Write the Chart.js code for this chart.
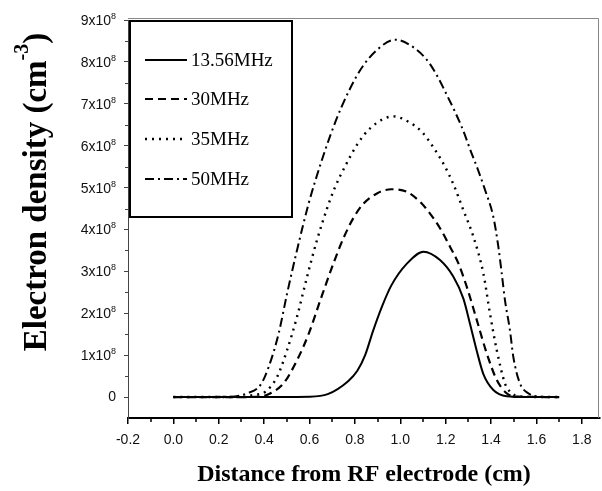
<!DOCTYPE html>
<html>
<head>
<meta charset="utf-8">
<script src="https://cdn.jsdelivr.net/npm/chart.js@4.4.1/dist/chart.umd.min.js"></script>
<style>
  html, body { margin: 0; padding: 0; background: #fff; }
</style>
</head>
<body>
<canvas id="chart" width="602" height="491"></canvas>
<script>
// electron density values are in units of 10^8 cm^-3
const seriesNames = ["13.56MHz", "30MHz", "35MHz", "50MHz"]

const x1356 = [0, 0.3, 0.6, 0.68, 0.77, 0.81, 0.845, 0.88, 0.92, 0.96, 1.03, 1.102, 1.175, 1.234, 1.278, 1.307, 1.337, 1.366, 1.41, 1.469, 1.55, 1.7]
const y1356 = [0, 0, 0.01, 0.07, 0.38, 0.62, 1.0, 1.58, 2.17, 2.66, 3.19, 3.47, 3.27, 2.87, 2.35, 1.75, 1.1, 0.55, 0.17, 0.02, 0, 0]

const x30 = [0, 0.3, 0.38, 0.428, 0.486, 0.545, 0.597, 0.648, 0.706, 0.75, 0.794, 0.838, 0.897, 0.96, 1.029, 1.087, 1.131, 1.175, 1.219, 1.256, 1.293, 1.337, 1.381, 1.425, 1.469, 1.52, 1.7]
const y30 = [0, 0, 0.01, 0.09, 0.33, 0.88, 1.52, 2.32, 3.2, 3.8, 4.28, 4.62, 4.86, 4.96, 4.9, 4.66, 4.38, 4.03, 3.59, 3.19, 2.63, 1.84, 1.04, 0.41, 0.09, 0.01, 0]

const x35 = [0, 0.28, 0.354, 0.406, 0.457, 0.501, 0.545, 0.589, 0.633, 0.677, 0.71, 0.758, 0.809, 0.868, 0.97, 1.036, 1.095, 1.153, 1.197, 1.234, 1.278, 1.322, 1.366, 1.395, 1.425, 1.461, 1.483, 1.53, 1.7]
const y35 = [0, 0, 0.05, 0.13, 0.48, 1.12, 1.92, 2.87, 3.75, 4.5, 4.98, 5.52, 6.02, 6.42, 6.7, 6.57, 6.33, 5.9, 5.5, 5.08, 4.46, 3.83, 2.95, 2.0, 1.12, 0.33, 0.13, 0.01, 0]

const x50 = [0, 0.25, 0.325, 0.384, 0.42, 0.464, 0.501, 0.545, 0.596, 0.648, 0.692, 0.743, 0.823, 0.9, 0.977, 1.065, 1.124, 1.168, 1.205, 1.241, 1.278, 1.307, 1.344, 1.373, 1.41, 1.432, 1.447, 1.461, 1.483, 1.498, 1.527, 1.564, 1.62, 1.7]
const y50 = [0, 0.01, 0.09, 0.29, 0.72, 1.52, 2.47, 3.51, 4.62, 5.55, 6.25, 6.95, 7.8, 8.3, 8.53, 8.32, 8.0, 7.61, 7.21, 6.81, 6.35, 5.92, 5.4, 4.95, 4.3, 3.59, 2.95, 2.32, 1.6, 0.96, 0.33, 0.09, 0.01, 0]

const xTickValues = [-0.2, 0, 0.2, 0.4, 0.6, 0.8, 1.0, 1.2, 1.4, 1.6, 1.8]
const xMinorValues = [-0.1, 0.1, 0.3, 0.5, 0.7, 0.9, 1.1, 1.3, 1.5, 1.7]
const yTickValues = [0, 1, 2, 3, 4, 5, 6, 7, 8, 9]
const yMinorValues = [0.5, 1.5, 2.5, 3.5, 4.5, 5.5, 6.5, 7.5, 8.5]

const xTitle = "Distance from RF electrode (cm)"
const yTitle = "Electron density (cm"
const yTitleSup = "-3"

function toPoints(xs, ys) {
  return xs.map((x, i) => ({ x: x, y: ys[i] }))
}

const lineStyles = [
  { dash: [], width: 2 },
  { dash: [8, 5], width: 2.2 },
  { dash: [2, 5], width: 2.4 },
  { dash: [9, 4, 2, 4], width: 2 }
]

const allX = [x1356, x30, x35, x50]
const allY = [y1356, y30, y35, y50]

const datasets = seriesNames.map((name, i) => ({
  label: name,
  data: toPoints(allX[i], allY[i]),
  borderColor: "#000",
  borderWidth: lineStyles[i].width,
  borderDash: lineStyles[i].dash,
  pointRadius: 0,
  fill: false,
  cubicInterpolationMode: "monotone"
}))

const extras = {
  id: "extras",
  afterDraw(chart) {
    const ctx = chart.ctx
    const area = chart.chartArea
    const xs = chart.scales.x
    const ys = chart.scales.y
    ctx.save()

    // thin frame on top and right
    ctx.strokeStyle = "#888"
    ctx.lineWidth = 1
    ctx.beginPath()
    ctx.moveTo(area.left, area.top - 1.5)
    ctx.lineTo(area.right - 1.5, area.top - 1.5)
    ctx.lineTo(area.right - 1.5, area.bottom)
    ctx.stroke()

    // minor ticks
    ctx.strokeStyle = "#000"
    ctx.lineWidth = 1.5
    ctx.beginPath()
    xMinorValues.forEach(v => {
      const px = Math.round(xs.getPixelForValue(v))
      ctx.moveTo(px, area.bottom + 1)
      ctx.lineTo(px, area.bottom + 4)
    })
    ctx.stroke()
    ctx.lineWidth = 1
    ctx.strokeStyle = "#444"
    ctx.beginPath()
    yMinorValues.forEach(v => {
      const py = Math.round(ys.getPixelForValue(v)) + 0.5
      ctx.moveTo(area.left - 3, py)
      ctx.lineTo(area.left, py)
    })
    ctx.stroke()

    // y tick labels with raised exponent
    ctx.fillStyle = "#111"
    ctx.textAlign = "right"
    const labelRight = 116
    yTickValues.forEach(v => {
      const py = ys.getPixelForValue(v)
      if (v === 0) {
        ctx.font = '14px "Liberation Sans"'
        ctx.textBaseline = "middle"
        ctx.fillText("0", labelRight, py)
        return
      }
      ctx.font = '9px "Liberation Sans"'
      ctx.textBaseline = "alphabetic"
      const supW = ctx.measureText("8").width
      ctx.fillText("8", labelRight, py - 1)
      ctx.font = '14px "Liberation Sans"'
      ctx.fillText(v + "x10", labelRight - supW, py + 5)
    })

    // legend box
    ctx.textAlign = "left"
    ctx.strokeStyle = "#000"
    ctx.lineWidth = 2
    ctx.setLineDash([])
    ctx.strokeRect(130, 21, 162, 196)
    const rows = [60, 99, 139, 179]
    ctx.font = '19px "Liberation Serif"'
    ctx.fillStyle = "#000"
    ctx.textBaseline = "alphabetic"
    chart.data.datasets.forEach((ds, i) => {
      ctx.beginPath()
      ctx.lineWidth = ds.borderWidth
      ctx.setLineDash(ds.borderDash)
      ctx.moveTo(145, rows[i])
      ctx.lineTo(187, rows[i])
      ctx.stroke()
      ctx.setLineDash([])
      ctx.fillText(ds.label, 191, rows[i] + 6)
    })

    // x axis title
    ctx.font = 'bold 24px "Liberation Serif"'
    ctx.textAlign = "center"
    ctx.fillText(xTitle, 364, 481)

    // y axis title with superscript
    ctx.translate(46, 192)
    ctx.rotate(-Math.PI / 2)
    ctx.textAlign = "left"
    const mainFont = 'bold 33px "Liberation Serif"'
    const supFont = 'bold 20px "Liberation Serif"'
    ctx.font = mainFont
    const w1 = ctx.measureText(yTitle).width
    const w3 = ctx.measureText(")").width
    ctx.font = supFont
    const w2 = ctx.measureText(yTitleSup).width
    let start = -(w1 + w2 + w3) / 2
    ctx.font = mainFont
    ctx.fillText(yTitle, start, 0)
    ctx.font = supFont
    ctx.fillText(yTitleSup, start + w1, -18)
    ctx.font = mainFont
    ctx.fillText(")", start + w1 + w2, 0)

    ctx.restore()
  }
}

new Chart(document.getElementById("chart").getContext("2d"), {
  type: "line",
  data: { datasets: datasets },
  options: {
    responsive: false,
    animation: false,
    layout: { padding: { top: 20, right: 2, left: 0, bottom: 0 } },
    plugins: {
      legend: { display: false },
      tooltip: { enabled: false }
    },
    scales: {
      x: {
        type: "linear",
        min: -0.2,
        max: 1.88,
        afterBuildTicks: scale => { scale.ticks = xTickValues.map(v => ({ value: v })) },
        afterFit: scale => { scale.height = 73 },
        border: { display: true, color: "#000", width: 2 },
        grid: { drawOnChartArea: false, drawTicks: true, tickLength: 6, color: "#000", lineWidth: 1.5 },
        ticks: {
          color: "#111",
          padding: 8,
          maxRotation: 0,
          autoSkip: false,
          font: { family: "Liberation Sans", size: 14 },
          callback: v => v.toFixed(1)
        }
      },
      y: {
        min: -0.5,
        max: 9,
        afterBuildTicks: scale => { scale.ticks = yTickValues.map(v => ({ value: v })) },
        afterFit: scale => { scale.width = 128 },
        border: { display: true, color: "#444", width: 1 },
        grid: { drawOnChartArea: false, drawTicks: true, tickLength: 4, color: "#444", lineWidth: 1 },
        ticks: { display: false }
      }
    }
  },
  plugins: [extras]
})
</script>
</body>
</html>
